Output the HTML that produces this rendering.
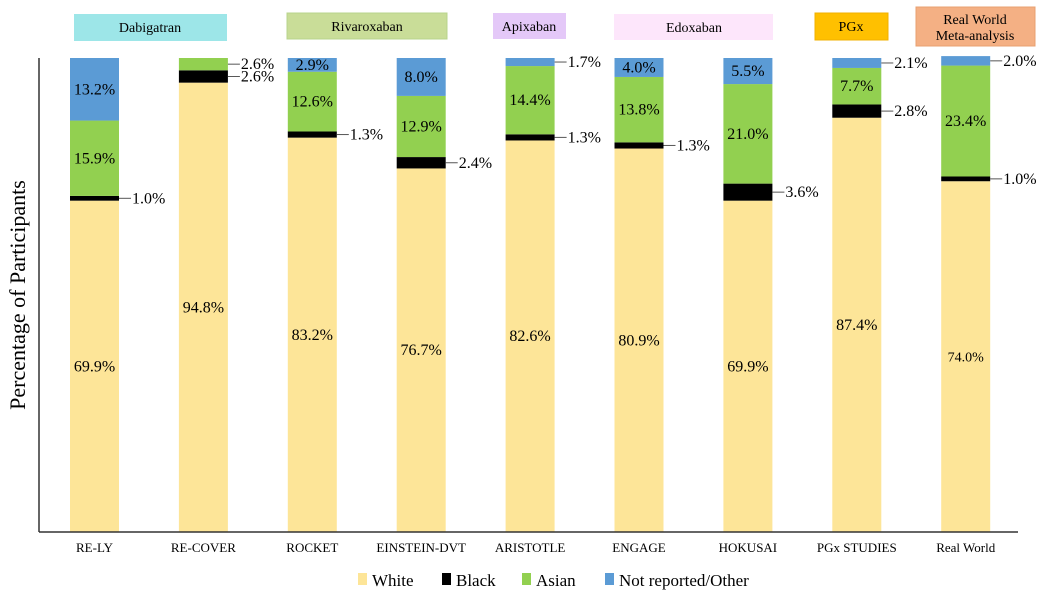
<!DOCTYPE html>
<html><head><meta charset="utf-8"><style>
body{margin:0;background:#fff;}
svg text{font-family:"Liberation Serif",serif;}
</style></head><body>
<svg id="chart" width="1050" height="596" xmlns="http://www.w3.org/2000/svg">
<g>
<rect x="74" y="14" width="153" height="27" fill="#9de6e8"/>
<text x="150" y="32" font-size="14" text-anchor="middle">Dabigatran</text>
<rect x="287" y="13" width="160" height="26" fill="#c9dd98" stroke="#b8d48c"/>
<text x="367" y="31" font-size="14" text-anchor="middle">Rivaroxaban</text>
<rect x="493" y="13" width="73" height="26" fill="#e4c8f8"/>
<text x="529" y="31" font-size="14" text-anchor="middle">Apixaban</text>
<rect x="614" y="14" width="159" height="26" fill="#fde6fb"/>
<text x="694" y="32" font-size="14" text-anchor="middle">Edoxaban</text>
<rect x="815" y="13" width="73" height="27" fill="#ffc000" stroke="#f0b000"/>
<text x="851" y="31" font-size="14" text-anchor="middle">PGx</text>
<rect x="916" y="7" width="119" height="39" fill="#f4b084" stroke="#e8a070"/>
<text x="975" y="24" font-size="14" text-anchor="middle">Real World</text>
<text x="975" y="40" font-size="14" text-anchor="middle">Meta-analysis</text>
</g>
<g id="bars"></g>
<line x1="39" y1="58" x2="39" y2="532" stroke="#333" stroke-width="1.5"/>
<line x1="39" y1="532" x2="1018" y2="532" stroke="#333" stroke-width="1.5"/>
<text transform="translate(25,295) rotate(-90)" font-size="22" text-anchor="middle">Percentage of Participants</text>
<g id="xlabels"></g>
<g>
<rect x="358" y="573" width="9" height="12" fill="#fde598"/>
<text x="372" y="586" font-size="17">White</text>
<rect x="442" y="573" width="9" height="12" fill="#000"/>
<text x="456" y="586" font-size="17">Black</text>
<rect x="522" y="573" width="9" height="12" fill="#92d050"/>
<text x="536" y="586" font-size="17">Asian</text>
<rect x="605" y="573" width="9" height="12" fill="#5b9bd5"/>
<text x="619" y="586" font-size="17">Not reported/Other</text>
</g>
</svg>
<script>
const categories = ["RE-LY","RE-COVER","ROCKET","EINSTEIN-DVT","ARISTOTLE","ENGAGE","HOKUSAI","PGx STUDIES","Real World"];
const white = [69.9,94.8,83.2,76.7,82.6,80.9,69.9,87.4,74.0];
const black = [1.0,2.6,1.3,2.4,1.3,1.3,3.6,2.8,1.0];
const asian = [15.9,2.6,12.6,12.9,14.4,13.8,21.0,7.7,23.4];
const other = [13.2,0,2.9,8.0,1.7,4.0,5.5,2.1,2.0];

const NS="http://www.w3.org/2000/svg";
const x0=94.5, step=108.9, bw=49, yBase=532, yTop=58;
const xc = i => x0 + i*step;
const y = v => yBase - v/100*(yBase-yTop);
const bars=document.getElementById('bars');
const xl=document.getElementById('xlabels');
const series=[{d:white,c:"#fde598",n:"white",out:false},{d:black,c:"#000000",n:"black",out:true},{d:asian,c:"#92d050",n:"asian",out:false},{d:other,c:"#5b9bd5",n:"other",out:false}];
function mk(tag,attrs){const e=document.createElementNS(NS,tag);for(const k in attrs)e.setAttribute(k,attrs[k]);return e;}
categories.forEach((cat,i)=>{
  let cum=0;
  series.forEach(s=>{
    const v=s.d[i];
    if(v<=0){return;}
    const y1=y(cum+v), y0=y(cum);
    const r=mk('rect',{x:xc(i)-bw/2,y:y1,width:bw,height:y0-y1,fill:s.c});
    
    
    bars.appendChild(r);
    const lbl=v.toFixed(1)+'%';
    const mid=(y0+y1)/2;
    if(!s.out && v>=2.9){
      const t=mk('text',{x:xc(i),y:mid+5,'font-size':(i===8&&s.n==='white')?14:16,'text-anchor':'middle'});
      t.textContent=lbl;
      
      
      bars.appendChild(t);
    } else {
      const l=mk('line',{x1:xc(i)+bw/2,y1:mid,x2:xc(i)+bw/2+12,y2:mid,stroke:'#555','stroke-width':1});
      
      
      bars.appendChild(l);
      const t=mk('text',{x:xc(i)+bw/2+13,y:mid+5,'font-size':16});
      t.textContent=lbl;
      
      
      bars.appendChild(t);
    }
    cum+=v;
  });
  const t=mk('text',{x:xc(i),y:552,'font-size':13,'text-anchor':'middle'});
  t.textContent=cat;
  
  
  xl.appendChild(t);
});
</script>
</body></html>
